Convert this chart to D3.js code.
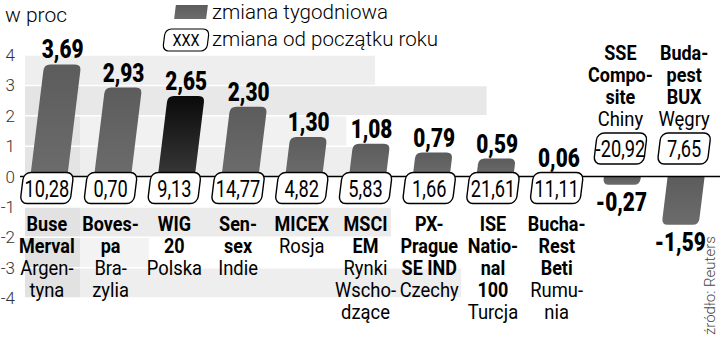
<!DOCTYPE html>
<html>
<head>
<meta charset="utf-8">
<script src="https://cdn.jsdelivr.net/npm/d3@7"></script>
<style>
  body { margin: 0; background: #fff; }
  svg { display: block; }
  text { font-family: Roboto, "Open Sans", sans-serif; }
  .light { font-weight: 300; }
</style>
</head>
<body>
<svg id="chart" width="720" height="339"></svg>
<script>
// data
let indexNames = ["Buse Merval", "Bovespa", "WIG 20", "Sensex", "MICEX", "MSCI EM",
                  "PX-Prague SE IND", "ISE National 100", "BuchaRest Beti", "SSE Composite", "Budapest BUX"];
let boldLines = [["Buse", "Merval"], ["Boves-", "pa"], ["WIG", "20"], ["Sen-", "sex"], ["MICEX"],
                 ["MSCI", "EM"], ["PX-", "Prague", "SE IND"], ["ISE", "Natio-", "nal", "100"],
                 ["Bucha-", "Rest", "Beti"], ["SSE", "Compo-", "site"], ["Buda-", "pest", "BUX"]];
let countryLines = [["Argen-", "tyna"], ["Bra-", "zylia"], ["Polska"], ["Indie"], ["Rosja"],
                    ["Rynki", "Wscho-", "dzące"], ["Czechy"], ["Turcja"], ["Rumu-", "nia"], ["Chiny"], ["Węgry"]];
let weekly = [3.69, 2.93, 2.65, 2.30, 1.30, 1.08, 0.79, 0.59, 0.06, -0.27, -1.59];
let ytd = [10.28, 0.70, 9.13, 14.77, 4.82, 5.83, 1.66, 21.61, 11.11, -20.92, 7.65];
let highlight = "WIG 20";
let yTicks = [4, 3, 2, 1, 0, -1, -2, -3, -4];

let fmt = v => d3.format(".2f")(v).replace(".", ",").replace("−", "-");

let svg = d3.select("#chart");

// scales
let x = d3.scaleBand().domain(indexNames).range([15, 716]);
let y = d3.scaleLinear().domain([-4, 4]).range([298, 55]);
let slant = Math.tan(7 * Math.PI / 180);
let barW = 37;

// background shading (decoration, rows between ticks)
let bg = svg.append("g");
let xEdge = i => 15 + i * x.step();
[[4, 3, 5.65, "#eeeeee"], [3, 2, 7.4, "#e8e8e8"], [2, 1, 5.2, "#f1f1f1"], [1, 0, 5.4, "#eeeeee"],
 [-1, -2, 5.9, "#ebebeb"], [-2, -3, 2.1, "#f3f3f3"], [-3, -4, 7.0, "#eeeeee"]]
  .forEach(r => {
    bg.append("rect")
      .attr("x", 25).attr("y", y(r[0]))
      .attr("width", xEdge(r[2]) - 25).attr("height", y(r[1]) - y(r[0]))
      .attr("fill", r[3]);
  });
// darker strip behind the first column
bg.append("rect").attr("x", 25).attr("y", y(3)).attr("width", 55).attr("height", y(0) - y(3)).attr("fill", "#e4e4e4");
bg.append("rect").attr("x", 25).attr("y", y(-1)).attr("width", 55).attr("height", y(-4) - y(-1)).attr("fill", "#e2e2e2");

// white gridlines
bg.selectAll("line.grid").data(yTicks.filter(d => d !== 0)).join("line")
  .attr("x1", 25).attr("x2", 720)
  .attr("y1", d => y(d)).attr("y2", d => y(d))
  .attr("stroke", "#fff").attr("stroke-width", 1.5);

// y tick labels
svg.append("g").selectAll("text").data(yTicks).join("text")
  .attr("class", "light")
  .attr("x", 15).attr("y", d => y(d) + 6)
  .attr("text-anchor", "end")
  .attr("font-size", 17).attr("fill", "#333")
  .text(d => d);

// gradients
let defs = svg.append("defs");
let g1 = defs.append("linearGradient").attr("id", "grayBar").attr("x1", 0).attr("x2", 0).attr("y1", 0).attr("y2", 1);
g1.append("stop").attr("offset", 0).attr("stop-color", "#5c5c5c");
g1.append("stop").attr("offset", 1).attr("stop-color", "#6c6c6c");
let g2 = defs.append("linearGradient").attr("id", "blackBar").attr("x1", 0).attr("x2", 0).attr("y1", 0).attr("y2", 1);
g2.append("stop").attr("offset", 0).attr("stop-color", "#0a0a0a");
g2.append("stop").attr("offset", 1).attr("stop-color", "#383838");

// bar path with rounded far end, drawn in local coords (0 = zero line)
function barPath(h) {
  let r = Math.min(6, Math.abs(h));
  let w = barW / 2;
  let s = h > 0 ? -1 : 1;
  let e = s * Math.abs(h);
  return "M" + (-w) + ",0 L" + (-w) + "," + (e - s * r) +
    " Q" + (-w) + "," + e + " " + (-w + r) + "," + e +
    " L" + (w - r) + "," + e +
    " Q" + w + "," + e + " " + w + "," + (e - s * r) +
    " L" + w + ",0 Z";
}

let data = indexNames.map((n, i) => ({name: n, v: weekly[i], ytd: ytd[i], bold: boldLines[i], reg: countryLines[i]}));
let cx = d => x(d.name) + x.bandwidth() / 2;

// condensed text helper: horizontal squeeze via scale
function condText(sel, px, py, sx) {
  return sel.attr("transform", "translate(" + px + "," + py + ") scale(" + sx + ",1)");
}

// bars
svg.append("g").selectAll("path").data(data).join("path")
  .attr("transform", d => "translate(" + (cx(d) + 2) + "," + y(0) + ") skewX(-7)")
  .attr("d", d => barPath(y(0) - y(d.v)))
  .attr("fill", d => d.name === highlight ? "url(#blackBar)" : "url(#grayBar)");

// zero line
svg.append("line").attr("x1", 20).attr("x2", 720).attr("y1", y(0)).attr("y2", y(0))
  .attr("stroke", "#000").attr("stroke-width", 1.6);

// weekly value labels
svg.append("g").selectAll("text").data(data).join("text")
  .attr("font-weight", 900).attr("font-size", 26).attr("text-anchor", "middle")
  .each(function(d) {
    let px = cx(d) + 2 + (y(0) - y(d.v)) * slant;
    let py = d.v >= 0 ? Math.min(y(d.v) - 6, 167) : y(d.v) + 26;
    condText(d3.select(this), px, py, 0.8);
  })
  .text(d => fmt(d.v));

// year-to-date boxes
let boxes = svg.append("g").selectAll("g").data(data).join("g")
  .attr("transform", d => "translate(" + cx(d) + "," + (d.v >= 0 ? y(0) + 11.5 : y(0) - 28) + ")");
boxes.append("rect")
  .attr("transform", "skewX(-7)")
  .attr("x", -25).attr("y", -15.5).attr("width", 50).attr("height", 31).attr("rx", 7)
  .attr("fill", "#fff").attr("stroke", "#000").attr("stroke-width", 1.4);
boxes.append("text")
  .attr("text-anchor", "middle").attr("font-size", 24)
  .attr("transform", "translate(0,8.5) scale(0.76,1)")
  .text(d => fmt(d.ytd));

// category labels, one text per line
let lineH = 22;
data.forEach(d => {
  let lines = d.bold.map(t => ({t: t, b: true})).concat(d.reg.map(t => ({t: t, b: false})));
  let base = d.v >= 0 ? 231 : 60;
  svg.append("g").selectAll("text").data(lines).join("text")
    .attr("text-anchor", "middle").attr("font-size", 20)
    .attr("font-weight", l => l.b ? "bold" : "normal")
    .attr("transform", (l, i) => "translate(" + cx(d) + "," + (base + i * lineH) + ") scale(" + (l.b ? 0.9 : 0.92) + ",1)")
    .text(l => l.t);
});

// title and legend
svg.append("text").attr("class", "light").attr("x", 5).attr("y", 22).attr("font-size", 21).text("w proc");
svg.append("path")
  .attr("transform", "translate(191,12) skewX(-7)")
  .attr("d", "M-16,-7 h32 v14 h-32 Z").attr("fill", "url(#grayBar)");
svg.append("text").attr("class", "light").attr("x", 212).attr("y", 19).attr("font-size", 20)
  .attr("textLength", 176).attr("lengthAdjust", "spacingAndGlyphs").text("zmiana tygodniowa");
let lg = svg.append("g").attr("transform", "translate(186,40)");
lg.append("rect").attr("transform", "skewX(-7)").attr("x", -22).attr("y", -11).attr("width", 44).attr("height", 22).attr("rx", 6)
  .attr("fill", "#fff").attr("stroke", "#000").attr("stroke-width", 1.2);
lg.append("text").attr("text-anchor", "middle").attr("font-size", 17)
  .attr("transform", "translate(0,6) scale(0.85,1)").text("XXX");
svg.append("text").attr("class", "light").attr("x", 212).attr("y", 46).attr("font-size", 20)
  .attr("textLength", 226).attr("lengthAdjust", "spacingAndGlyphs").text("zmiana od początku roku");

// source
svg.append("text").attr("class", "light")
  .attr("transform", "translate(715,335) rotate(-90)")
  .attr("font-size", 15).attr("fill", "#444")
  .text("źródło: Reuters");
</script>
</body>
</html>
